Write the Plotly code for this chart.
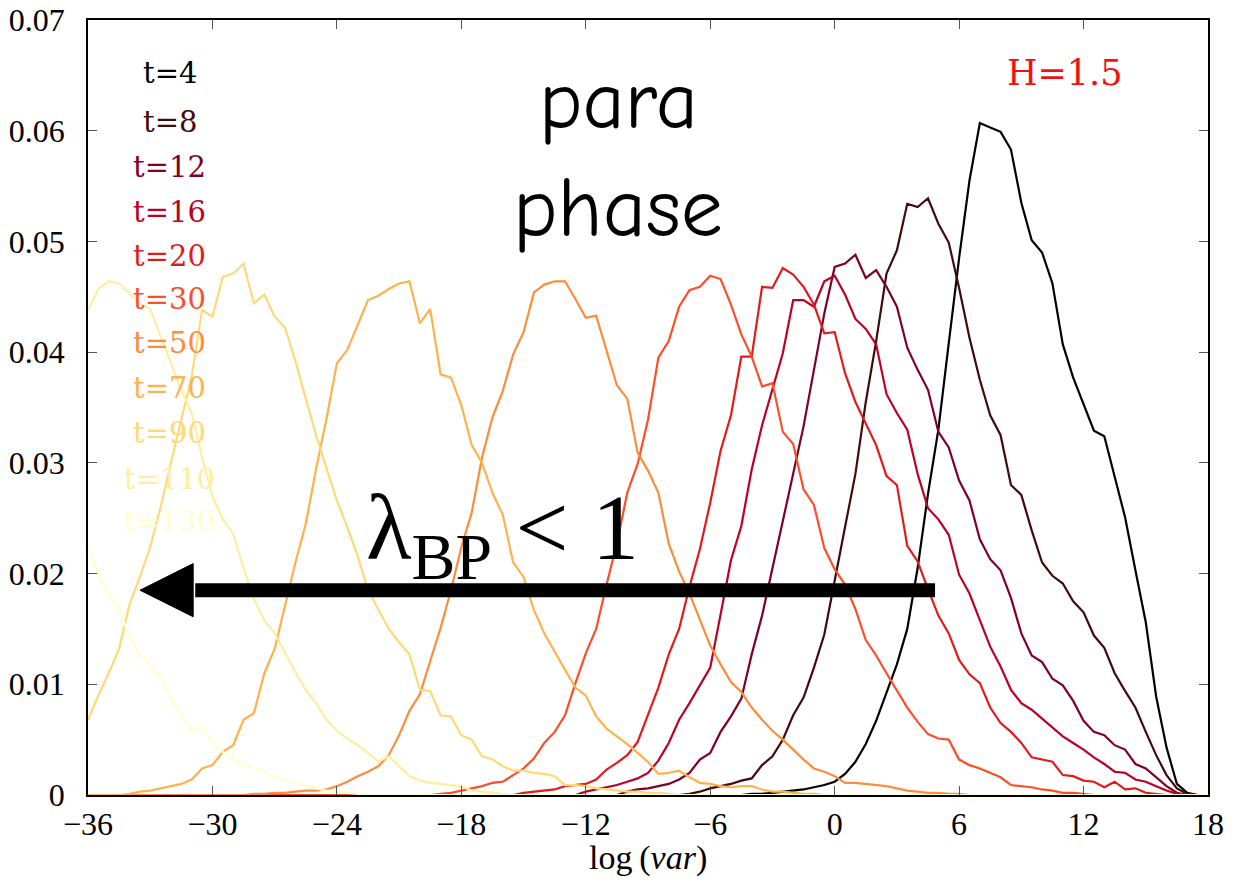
import plotly.graph_objects as go

# ---------------- data ----------------
X_MIN, X_MAX, STEP = -36.0, 18.0, 0.5

series_names = ["t=4", "t=8", "t=12", "t=16", "t=20", "t=30", "t=50", "t=70", "t=90", "t=110", "t=130"]
series_colors = ["#000000", "#420a0a", "#800026", "#bd0026", "#e31a1c", "#fc4e2a",
                 "#fd8d3c", "#feb24c", "#fed976", "#ffeda0", "#ffffcc"]

# each curve: first log(var) value of its non-zero part, then values every 0.5
t4_start = -4.0
t4_y = [0.0001, 0.0001, 0.0002, 0.0003, 0.0004, 0.0005, 0.0007, 0.0009,
        0.0012, 0.0019, 0.0030, 0.0046, 0.0067, 0.0092, 0.0118, 0.0150, 0.0205, 0.0272,
        0.0330, 0.0408, 0.0485, 0.0555, 0.0607, 0.0603, 0.0599, 0.0583, 0.0535, 0.0501,
        0.0490, 0.0462, 0.0407, 0.0377, 0.0353, 0.0329, 0.0324, 0.0288, 0.0251, 0.0203,
        0.0156, 0.0089, 0.0043, 0.0010, 0.0002]

t8_start = -7.0
t8_y = [0.0001, 0.0003, 0.0006, 0.0008, 0.0010, 0.0013, 0.0015, 0.0027, 0.0035, 0.0050,
        0.0072, 0.0088, 0.0115, 0.0145, 0.0195, 0.0242, 0.0290, 0.0355, 0.0410, 0.0471,
        0.0492, 0.0534, 0.0531, 0.0539, 0.0516, 0.0499, 0.0458, 0.0413, 0.0375, 0.0343,
        0.0325, 0.0280, 0.0271, 0.0239, 0.0210, 0.0198, 0.0191, 0.0175, 0.0165, 0.0144,
        0.0133, 0.0110, 0.0094, 0.0079, 0.0057, 0.0036, 0.0018, 0.0006, 0.0001]

t12_start = -10.0
t12_y = [0.0003, 0.0005, 0.0006, 0.0008, 0.0010, 0.0014, 0.0020, 0.0032, 0.0038, 0.0057,
         0.0071, 0.0087, 0.0127, 0.0162, 0.0205, 0.0248, 0.0292, 0.0333, 0.0384, 0.0435,
         0.0477, 0.0480, 0.0488, 0.0467, 0.0474, 0.0459, 0.0441, 0.0404, 0.0384, 0.0366,
         0.0328, 0.0314, 0.0284, 0.0266, 0.0231, 0.0213, 0.0203, 0.0178, 0.0146, 0.0126,
         0.0120, 0.0105, 0.0099, 0.0085, 0.0067, 0.0057, 0.0054, 0.0045, 0.0041, 0.0028,
         0.0024, 0.0016, 0.0008, 0.0002]

t16_start = -12.0
t16_y = [0.0003, 0.0005, 0.0007, 0.0009, 0.0012, 0.0015, 0.0020, 0.0031, 0.0047, 0.0068,
         0.0083, 0.0099, 0.0115, 0.0163, 0.0212, 0.0243, 0.0294, 0.0334, 0.0366, 0.0399,
         0.0447, 0.0447, 0.0441, 0.0464, 0.0469, 0.0452, 0.0430, 0.0421, 0.0407, 0.0362,
         0.0345, 0.0330, 0.0290, 0.0259, 0.0249, 0.0235, 0.0199, 0.0182, 0.0158, 0.0134,
         0.0116, 0.0095, 0.0083, 0.0077, 0.0069, 0.0061, 0.0053, 0.0047, 0.0041, 0.0034,
         0.0028, 0.0021, 0.0020, 0.0014, 0.0012, 0.0008, 0.0004, 0.0001]

t20_start = -15.0
t20_y = [0.0002, 0.0003, 0.0004, 0.0005, 0.0008, 0.0009, 0.0010, 0.0014, 0.0023, 0.0029,
         0.0036, 0.0048, 0.0072, 0.0097, 0.0127, 0.0150, 0.0188, 0.0222, 0.0264, 0.0311,
         0.0343, 0.0396, 0.0396, 0.0459, 0.0458, 0.0476, 0.0470, 0.0459, 0.0443, 0.0417,
         0.0418, 0.0381, 0.0355, 0.0336, 0.0316, 0.0288, 0.0280, 0.0225, 0.0211, 0.0186,
         0.0162, 0.0146, 0.0122, 0.0109, 0.0101, 0.0079, 0.0065, 0.0057, 0.0047, 0.0034,
         0.0032, 0.0030, 0.0018, 0.0017, 0.0013, 0.0012, 0.0007, 0.0012, 0.0005, 0.0006,
         0.0002, 0.0001]

t30_start = -19.0
t30_y = [0.0001, 0.0002, 0.0004, 0.0006, 0.0008, 0.0011, 0.0012, 0.0018, 0.0024, 0.0033,
         0.0047, 0.0057, 0.0072, 0.0101, 0.0128, 0.0150, 0.0190, 0.0227, 0.0273, 0.0299,
         0.0339, 0.0395, 0.0410, 0.0441, 0.0456, 0.0459, 0.0469, 0.0466, 0.0443, 0.0416,
         0.0396, 0.0369, 0.0372, 0.0328, 0.0317, 0.0276, 0.0262, 0.0223, 0.0204, 0.0190,
         0.0168, 0.0140, 0.0126, 0.0110, 0.0094, 0.0079, 0.0066, 0.0055, 0.0051, 0.0050,
         0.0032, 0.0027, 0.0024, 0.0020, 0.0016, 0.0009, 0.0008, 0.0007, 0.0005, 0.0004,
         0.0002, 0.0002, 0.0001]

t50_start = -28.0
t50_y = [0.0001, 0.0001, 0.0002, 0.0002, 0.0003, 0.0004, 0.0004, 0.0005, 0.0008, 0.0012,
         0.0017, 0.0021, 0.0026, 0.0036, 0.0054, 0.0076, 0.0091, 0.0120, 0.0151, 0.0185,
         0.0224, 0.0255, 0.0305, 0.0341, 0.0365, 0.0398, 0.0418, 0.0454, 0.0461, 0.0464,
         0.0464, 0.0448, 0.0431, 0.0433, 0.0401, 0.0370, 0.0358, 0.0309, 0.0293, 0.0273,
         0.0227, 0.0202, 0.0182, 0.0158, 0.0135, 0.0118, 0.0102, 0.0093, 0.0079, 0.0068,
         0.0058, 0.0050, 0.0041, 0.0032, 0.0024, 0.0021, 0.0017, 0.0011, 0.0011, 0.0010,
         0.0009, 0.0008, 0.0006, 0.0004, 0.0003, 0.0002, 0.0002, 0.0001, 0.0001]

t70_start = -34.0
t70_y = [0.0001, 0.0003, 0.0004, 0.0006, 0.0008, 0.0010, 0.0014, 0.0024, 0.0027, 0.0039,
         0.0045, 0.0068, 0.0074, 0.0110, 0.0132, 0.0172, 0.0210, 0.0245, 0.0295, 0.0340,
         0.0390, 0.0402, 0.0425, 0.0447, 0.0451, 0.0457, 0.0462, 0.0464, 0.0426, 0.0439,
         0.0380, 0.0377, 0.0352, 0.0316, 0.0300, 0.0273, 0.0253, 0.0210, 0.0197, 0.0167,
         0.0146, 0.0129, 0.0113, 0.0097, 0.0090, 0.0071, 0.0060, 0.0053, 0.0046, 0.0038,
         0.0030, 0.0019, 0.0020, 0.0022, 0.0016, 0.0011, 0.0010, 0.0008, 0.0007, 0.0008,
         0.0008, 0.0005, 0.0003, 0.0003, 0.0002, 0.0001, 0.0001]

t90_start = -36.0
t90_y = [0.0068, 0.0090, 0.0110, 0.0132, 0.0172, 0.0197, 0.0224, 0.0260, 0.0300, 0.0338,
         0.0378, 0.0438, 0.0432, 0.0468, 0.0471, 0.0480, 0.0444, 0.0452, 0.0432, 0.0422,
         0.0392, 0.0358, 0.0325, 0.0295, 0.0266, 0.0242, 0.0216, 0.0185, 0.0168, 0.0150,
         0.0138, 0.0127, 0.0095, 0.0094, 0.0072, 0.0071, 0.0054, 0.0050, 0.0035, 0.0032,
         0.0026, 0.0022, 0.0022, 0.0020, 0.0019, 0.0017, 0.0009, 0.0009, 0.0008, 0.0006,
         0.0005, 0.0004, 0.0003, 0.0003, 0.0002, 0.0002, 0.0001]

t110_start = -36.0
t110_y = [0.0438, 0.0457, 0.0464, 0.0462, 0.0453, 0.0444, 0.0439, 0.0415, 0.0390, 0.0366,
          0.0345, 0.0305, 0.0270, 0.0249, 0.0236, 0.0205, 0.0177, 0.0158, 0.0146, 0.0128,
          0.0111, 0.0095, 0.0083, 0.0068, 0.0058, 0.0051, 0.0045, 0.0038, 0.0030, 0.0035,
          0.0026, 0.0017, 0.0013, 0.0011, 0.0010, 0.0009, 0.0008, 0.0004, 0.0003, 0.0002,
          0.0001]

t130_start = -36.0
t130_y = [0.0225, 0.0198, 0.0181, 0.0168, 0.0142, 0.0127, 0.0117, 0.0106, 0.0088, 0.0073,
          0.0057, 0.0062, 0.0047, 0.0039, 0.0032, 0.0027, 0.0024, 0.0022, 0.0015, 0.0014,
          0.0011, 0.0008, 0.0006, 0.0004, 0.0003, 0.0002, 0.0001]

series_starts = [t4_start, t8_start, t12_start, t16_start, t20_start, t30_start,
                 t50_start, t70_start, t90_start, t110_start, t130_start]
series_values = [t4_y, t8_y, t12_y, t16_y, t20_y, t30_y, t50_y, t70_y, t90_y, t110_y, t130_y]

x_tickvals = [-36, -30, -24, -18, -12, -6, 0, 6, 12, 18]
x_ticktext = ["\u221236", "\u221230", "\u221224", "\u221218", "\u221212", "\u22126", "0", "6", "12", "18"]
y_tickvals = [0, 0.01, 0.02, 0.03, 0.04, 0.05, 0.06, 0.07]
y_ticktext = ["0", "0.01", "0.02", "0.03", "0.04", "0.05", "0.06", "0.07"]

# ---------------- build figure ----------------
n_pts = int(round((X_MAX - X_MIN) / STEP)) + 1
grid_x = [X_MIN + STEP * i for i in range(n_pts)]


def on_grid(start, vals):
    ys = [0.0] * n_pts
    i0 = int(round((start - X_MIN) / STEP))
    for k, v in enumerate(vals):
        if 0 <= i0 + k < n_pts:
            ys[i0 + k] = v
    return ys


fig = go.Figure()
for name, col, st, vals in zip(series_names, series_colors, series_starts, series_values):
    fig.add_trace(go.Scatter(x=grid_x, y=on_grid(st, vals), mode="lines", name=name,
                             line=dict(color=col, width=2.2), showlegend=False,
                             hoverinfo="skip"))

SERIF = "Liberation Serif, Times New Roman, serif"
LABEL_FONT = "DejaVu Serif, serif"

# series labels (left column)
label_x = -32.05
label_y = [0.0652, 0.0608, 0.0567, 0.0527, 0.0487, 0.0448, 0.0408, 0.0368, 0.0327, 0.0285, 0.0247]
annotations = []
for name, col, ly in zip(series_names, series_colors, label_y):
    annotations.append(dict(x=label_x, y=ly, xref="x", yref="y", text=name, showarrow=False,
                            xanchor="center", yanchor="middle",
                            font=dict(family=LABEL_FONT, size=29, color=col)))

annotations.append(dict(x=11.1, y=0.0652, xref="x", yref="y", text="H=1.5", showarrow=False,
                        xanchor="center", yanchor="middle",
                        font=dict(family=LABEL_FONT, size=35, color="#f41010")))

COMIC = "Comic Sans MS, Comic Neue, DejaVu Sans, sans-serif"
annotations.append(dict(x=-10.44, y=0.0626, xref="x", yref="y", text="para", showarrow=False,
                        xanchor="center", yanchor="middle",
                        font=dict(family=COMIC, size=82, color="black")))
annotations.append(dict(x=-10.44, y=0.0530, xref="x", yref="y", text="phase", showarrow=False,
                        xanchor="center", yanchor="middle",
                        font=dict(family=COMIC, size=84, color="black")))

annotations.append(dict(x=-22.7, y=0.0236, xref="x", yref="y",
                        text="\u03bb<sub>BP</sub> < 1", showarrow=False,
                        xanchor="left", yanchor="middle",
                        font=dict(family=SERIF, size=94, color="black")))

# x-axis title
annotations.append(dict(x=0.5, y=-0.0813, xref="paper", yref="paper",
                        text="log\u2009(<i>var</i>)", showarrow=False,
                        xanchor="center", yanchor="middle",
                        font=dict(family=SERIF, size=34, color="black")))

# arrow (lambda_BP < 1), in data units
arrow_y = 0.0185
arrow_tail_x = 4.84
arrow_base_x = -30.93
arrow_tip_x = -33.49
arrow_half_h = 0.0024
shapes = [
    dict(type="line", xref="x", yref="y", x0=arrow_base_x + 0.1, x1=arrow_tail_x,
         y0=arrow_y, y1=arrow_y, line=dict(color="black", width=14)),
    dict(type="path", xref="x", yref="y",
         path=f"M {arrow_tip_x},{arrow_y} L {arrow_base_x},{arrow_y + arrow_half_h} "
              f"L {arrow_base_x},{arrow_y - arrow_half_h} Z",
         fillcolor="black", line=dict(color="black", width=1)),
]

axis_common = dict(showline=True, linecolor="black", linewidth=1.5, mirror="allticks",
                   ticks="inside", ticklen=9, tickwidth=1.2, tickcolor="#555555",
                   showgrid=False, zeroline=False, automargin=False)

fig.update_layout(
    width=1246, height=882,
    margin=dict(l=88, r=38, t=20, b=87),
    paper_bgcolor="white", plot_bgcolor="white",
    xaxis=dict(range=[X_MIN, X_MAX], tickmode="array", tickvals=x_tickvals, ticktext=x_ticktext,
               ticklabelstandoff=0, tickfont=dict(family=SERIF, size=32, color="black"),
               **axis_common),
    yaxis=dict(range=[0, 0.07], tickmode="array", tickvals=y_tickvals, ticktext=y_ticktext,
               ticklabelstandoff=15, tickfont=dict(family=SERIF, size=32, color="black"),
               **axis_common),
    annotations=annotations,
    shapes=shapes,
    showlegend=False,
)

fig.write_html("out.html")
